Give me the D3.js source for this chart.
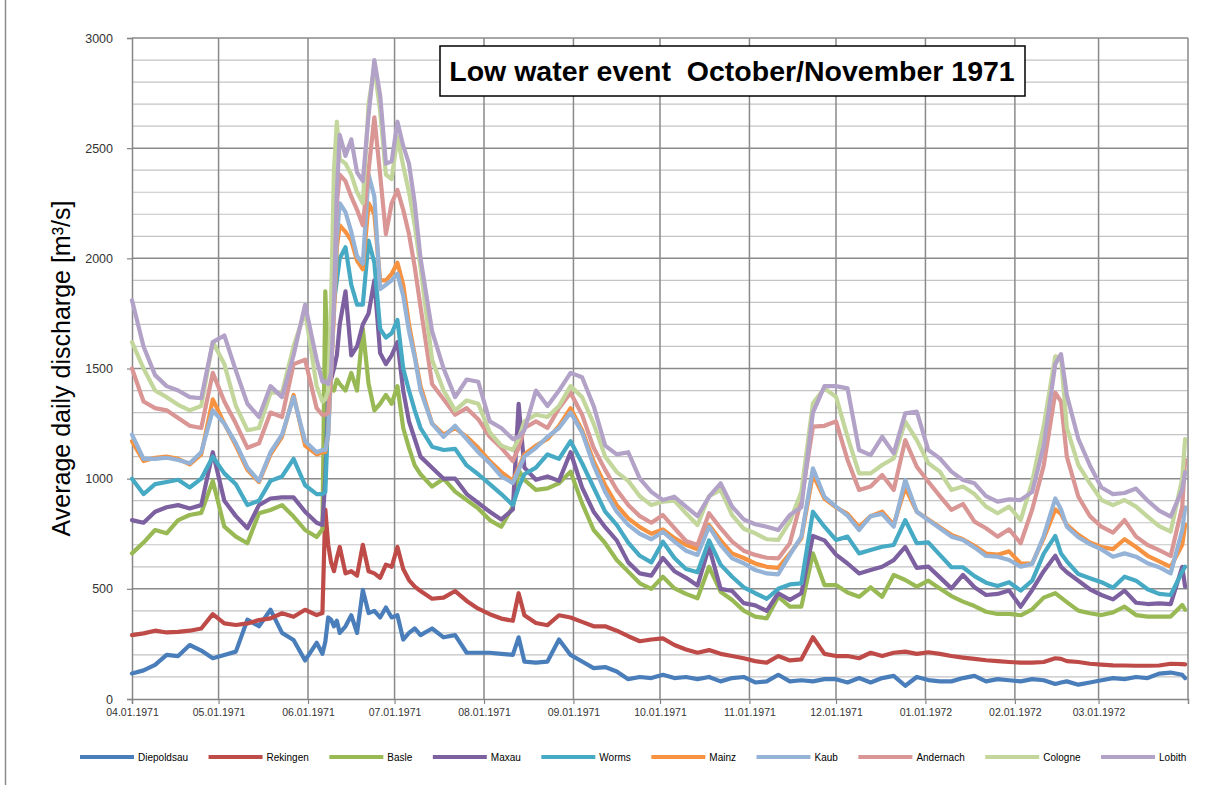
<!DOCTYPE html>
<html>
<head>
<meta charset="utf-8">
<script src="https://cdnjs.cloudflare.com/ajax/libs/d3/7.8.5/d3.min.js"></script>
<style>
  body { margin: 0; background: #fff; }
  svg { display: block; font-family: "Liberation Sans", Arial, sans-serif; }
</style>
</head>
<body>
<svg id="chart" width="1212" height="785"></svg>
<script>
// day offsets from 1 April 1971
var startDate = "1971-04-01";
var dayOffsets = [0,4,8,12,16,20,24,28,32,36,40,44,48,52,56,60,64,
  66,67,68,69,70,71,72,
  74,76,78,80,82,84,86,88,90,92,94,96,98,100,
  104,108,112,116,120,124,128,132,
  134,
  136,140,144,148,152,156,160,164,168,172,176,180,184,188,192,196,200,204,208,212,
  216,220,224,228,232,236,240,244,248,252,256,260,264,268,272,276,280,284,288,292,
  296,300,304,308,312,316,320,
  322,
  324,328,332,336,340,344,348,352,356,360,364,
  365];

var diepoldsau = [116,130,155,200,195,245,220,185,200,215,360,330,405,300,268,175,255,
  205,260,370,360,330,355,300,
  330,380,300,495,390,400,370,415,370,380,270,300,320,290,
  320,280,290,210,210,210,205,200,
  280,
  170,165,170,270,200,170,140,145,125,90,100,95,110,95,100,90,100,80,95,100,
  75,80,110,80,85,80,90,90,75,95,75,95,105,60,100,86,80,80,95,105,
  80,90,85,80,90,85,68,
  75,
  80,65,75,85,95,90,100,95,115,120,110,
  95];

var rekingen = [290,298,310,302,305,310,320,385,343,336,343,358,366,389,373,405,381,
  390,860,700,620,580,640,690,
  570,580,560,700,580,570,550,610,600,690,590,540,510,490,
  455,460,490,445,410,385,365,355,
  480,
  380,345,335,380,370,350,330,330,310,285,262,270,275,245,225,210,222,205,195,185,
  172,165,195,175,180,280,205,195,195,185,210,195,210,215,205,212,205,195,188,182,
  176,172,168,165,165,168,185,
  182,
  172,168,160,156,153,152,151,151,152,160,158,
  157];

var basle = [661,710,767,752,812,835,845,990,782,737,707,843,858,880,828,767,735,
  770,1850,1450,1410,1400,1450,1430,
  1400,1480,1400,1680,1430,1310,1340,1380,1340,1420,1230,1140,1060,1020,
  964,1000,941,903,865,812,782,873,
  1040,
  994,949,956,979,1032,888,767,707,631,578,525,500,555,502,477,457,600,487,449,401,
  374,366,464,419,419,661,517,517,483,464,507,464,563,540,510,537,502,467,442,422,
  396,386,386,380,407,460,480,
  460,
  440,401,389,381,393,419,381,374,374,374,427,
  405];

var maxau = [812,800,850,870,880,865,880,1120,900,830,775,880,910,915,915,850,800,
  790,1000,1380,1450,1500,1560,1700,
  1850,1560,1600,1700,1750,1900,1570,1520,1560,1620,1400,1260,1180,1100,
  1050,1000,1000,930,890,850,815,860,
  1340,
  1050,995,1010,990,1120,960,850,780,720,620,570,560,640,580,550,515,690,500,490,435,
  425,400,480,450,480,740,720,655,615,570,585,600,630,690,595,601,552,502,563,507,
  472,477,492,419,495,580,650,
  600,
  575,537,498,472,452,492,437,431,434,431,600,
  510];

var worms = [1000,930,975,985,995,960,1000,1100,1024,975,880,900,990,1010,1090,970,930,
  930,940,1300,1600,1800,1900,2000,
  2050,1880,1790,1790,2080,1980,1680,1640,1660,1720,1500,1400,1310,1230,
  1145,1130,1135,1060,1020,975,930,880,
  960,
  1020,1050,1110,1090,1170,1070,960,850,790,710,650,620,714,640,590,575,720,610,555,507,
  480,455,500,520,525,850,782,722,737,661,676,691,699,812,707,711,654,598,598,558,
  528,513,530,492,537,660,740,
  660,
  625,567,548,530,505,555,537,498,477,472,578,
  600];

var mainz = [1170,1080,1095,1100,1090,1065,1110,1360,1250,1150,1040,985,1110,1190,1380,1150,1110,
  1120,1120,1200,1480,1750,2050,2150,
  2120,2080,1990,1950,2250,2200,1900,1900,1930,1980,1880,1700,1560,1420,
  1250,1200,1230,1190,1140,1080,1030,990,
  1050,
  1110,1150,1180,1240,1320,1220,1080,970,880,820,780,750,770,730,700,680,790,720,660,640,
  615,600,595,660,730,1020,910,870,840,780,830,850,790,960,850,815,780,745,725,695,
  660,655,670,615,615,730,860,
  840,
  790,745,710,690,680,725,690,650,625,600,700,
  790];

var kaub = [1200,1090,1090,1095,1085,1070,1120,1310,1250,1160,1050,990,1120,1200,1370,1170,1120,
  1130,1130,1200,1500,1800,2100,2250,
  2210,2120,2010,1975,2380,2280,1860,1880,1900,1930,1830,1670,1550,1400,
  1250,1190,1240,1180,1120,1070,1010,980,
  1040,
  1100,1140,1190,1230,1300,1210,1060,940,850,790,750,725,759,714,673,654,782,699,638,616,
  585,570,566,654,737,1047,918,873,832,767,830,840,782,994,850,812,775,737,722,688,
  649,646,631,601,613,740,910,
  860,
  782,734,703,679,646,661,646,616,598,570,767,
  870];

var andernach = [1500,1350,1320,1310,1275,1240,1230,1480,1350,1250,1140,1160,1300,1280,1520,1540,1320,
  1290,1290,1300,1500,1900,2250,2380,
  2350,2280,2220,2150,2400,2640,2380,2110,2250,2310,2220,2110,1960,1780,
  1430,1360,1290,1320,1270,1190,1140,1080,
  1140,
  1230,1260,1230,1320,1390,1290,1140,1040,950,880,830,800,835,775,717,699,843,775,714,673,
  654,641,638,707,903,1236,1240,1260,1085,949,964,1017,949,1175,1054,986,921,858,885,805,
  775,737,770,707,860,1060,1390,
  1350,
  1100,918,830,782,755,812,737,699,676,649,873,
  1085];

var cologne = [1620,1500,1400,1370,1335,1310,1330,1620,1520,1330,1220,1230,1390,1390,1600,1760,1420,
  1350,1360,1400,1800,2400,2620,2450,
  2430,2380,2300,2250,2700,2870,2670,2380,2360,2550,2420,2300,2150,1960,
  1540,1400,1310,1355,1340,1210,1150,1130,
  1180,
  1260,1290,1280,1330,1420,1370,1250,1100,1030,990,920,880,896,900,843,790,921,949,835,773,
  752,725,722,805,941,1342,1410,1372,1190,1024,1024,1062,1092,1259,1175,1070,1032,949,964,930,
  873,843,873,812,985,1240,1555,
  1550,
  1230,1062,979,903,880,903,873,828,785,760,1000,
  1180];

var lobith = [1810,1600,1470,1420,1400,1370,1365,1620,1650,1490,1340,1280,1420,1370,1560,1790,1540,
  1440,1440,1430,1480,1800,2300,2560,
  2465,2540,2390,2350,2650,2900,2740,2430,2440,2620,2510,2430,2250,2000,
  1670,1500,1370,1450,1440,1260,1230,1180,
  1190,
  1220,1400,1330,1400,1480,1460,1330,1150,1110,1120,1000,940,903,918,873,830,918,979,873,815,
  793,782,767,835,870,1300,1420,1420,1410,1130,1107,1190,1115,1296,1304,1130,1092,1032,994,979,
  921,896,906,903,940,1150,1520,
  1565,
  1380,1180,1060,960,930,935,955,900,855,828,950,
  1030];

var stationNames = ["Diepoldsau", "Rekingen", "Basle", "Maxau", "Worms", "Mainz", "Kaub", "Andernach", "Cologne", "Lobith"];
var stationValues = [diepoldsau, rekingen, basle, maxau, worms, mainz, kaub, andernach, cologne, lobith];
var stationColors = ["#4a7ebb", "#be4b48", "#98b954", "#7d60a0", "#46aac5", "#f69240", "#95b3d7", "#d99694", "#c3d69b", "#b3a2c7"];
var yTicks = [0, 500, 1000, 1500, 2000, 2500, 3000];

var svg = d3.select("#chart");
var margin = {top: 38, right: 24, bottom: 86, left: 132};
var width = 1212 - margin.left - margin.right;
var height = 785 - margin.top - margin.bottom;

// chart area border, only its left edge shows in the picture
svg.append("line")
  .attr("x1", 5.5).attr("x2", 5.5)
  .attr("y1", 0).attr("y2", 785)
  .attr("stroke", "#8c8c8c")
  .attr("stroke-width", 1.5);

var chartGroup = svg.append("g")
  .attr("transform", `translate(${margin.left}, ${margin.top})`);

var start = d3.utcParse("%Y-%m-%d")(startDate);
var end = d3.utcYear.offset(start, 1);

var xScale = d3.scaleUtc().domain([start, end]).range([0, width]);
var yScale = d3.scaleLinear().domain([0, 3000]).range([height, 0]);

// minor gridlines every 100
chartGroup.append("g")
  .selectAll("line")
  .data(d3.range(100, 3000, 100).filter(v => v % 500 !== 0))
  .join("line")
  .attr("x1", 0).attr("x2", width)
  .attr("y1", d => yScale(d)).attr("y2", d => yScale(d))
  .attr("stroke", "#c4c4c4")
  .attr("stroke-width", 1.2);

// major gridlines
chartGroup.append("g")
  .selectAll("line")
  .data(yTicks.slice(1))
  .join("line")
  .attr("x1", 0).attr("x2", width)
  .attr("y1", d => yScale(d)).attr("y2", d => yScale(d))
  .attr("stroke", "#8a8a8a")
  .attr("stroke-width", 1.5);

// vertical gridlines at month starts
var months = d3.utcMonth.range(start, d3.utcDay.offset(end, 1));
chartGroup.append("g")
  .selectAll("line")
  .data(months.slice(1))
  .join("line")
  .attr("x1", d => xScale(d)).attr("x2", d => xScale(d))
  .attr("y1", 0).attr("y2", height)
  .attr("stroke", "#8a8a8a")
  .attr("stroke-width", 1.5);

// axes
var leftAxis = d3.axisLeft(yScale)
  .tickValues(yTicks)
  .tickFormat(d3.format("d"))
  .tickSize(5).tickPadding(14);
var bottomAxis = d3.axisBottom(xScale)
  .tickValues(d3.utcMonth.range(start, end))
  .tickFormat(d3.utcFormat("%m.%d.%Y"))
  .tickSize(5).tickPadding(5);

var yAxisG = chartGroup.append("g").call(leftAxis);
var xAxisG = chartGroup.append("g")
  .attr("transform", `translate(0, ${height})`)
  .call(bottomAxis);

[yAxisG, xAxisG].forEach(a => {
  a.select(".domain").attr("stroke", "#868686").attr("stroke-width", 1.5);
  a.selectAll(".tick line").attr("stroke", "#868686").attr("stroke-width", 1.2);
  a.selectAll("text").attr("fill", "#333").style("font-family", "Liberation Sans, Arial, sans-serif");
});
yAxisG.selectAll("text").style("font-size", "12.5px");
xAxisG.selectAll("text").style("font-size", "10.5px");

// series lines
var line = d3.line()
  .x(d => xScale(d.date))
  .y(d => yScale(d.value))
  .curve(d3.curveLinear);

stationNames.forEach((name, i) => {
  var data = dayOffsets.map((off, j) => ({date: d3.utcDay.offset(start, off), value: stationValues[i][j]}));
  chartGroup.append("path")
    .datum(data)
    .attr("fill", "none")
    .attr("stroke", stationColors[i])
    .attr("stroke-width", 4.2)
    .attr("stroke-linejoin", "round")
    .attr("stroke-linecap", "round")
    .attr("d", line);
});

// axis title
svg.append("text")
  .attr("transform", "rotate(-90)")
  .attr("x", -(margin.top + height / 2))
  .attr("y", 70)
  .attr("text-anchor", "middle")
  .style("font-size", "25px")
  .attr("fill", "#000")
  .text("Average daily discharge [m³/s]");

// title box
svg.append("rect")
  .attr("x", 440).attr("y", 46)
  .attr("width", 585).attr("height", 50)
  .attr("fill", "#fff")
  .attr("stroke", "#000")
  .attr("stroke-width", 1.5);

svg.append("text")
  .attr("x", 732).attr("y", 81)
  .attr("text-anchor", "middle")
  .style("font-size", "28.5px")
  .style("font-weight", "bold")
  .style("white-space", "pre")
  .attr("fill", "#000")
  .text("Low water event  October/November 1971");

// legend
var legend = svg.append("g").attr("transform", "translate(0, 757)");
var lx = 80;
stationNames.forEach((name, i) => {
  legend.append("line")
    .attr("x1", lx).attr("x2", lx + 54)
    .attr("y1", 0).attr("y2", 0)
    .attr("stroke", stationColors[i])
    .attr("stroke-width", 4);
  var t = legend.append("text")
    .attr("x", lx + 58).attr("y", 3.5)
    .style("font-size", "10px")
    .attr("fill", "#000")
    .text(name);
  lx += 58 + t.node().getComputedTextLength() + 20.5;
});
</script>
</body>
</html>
